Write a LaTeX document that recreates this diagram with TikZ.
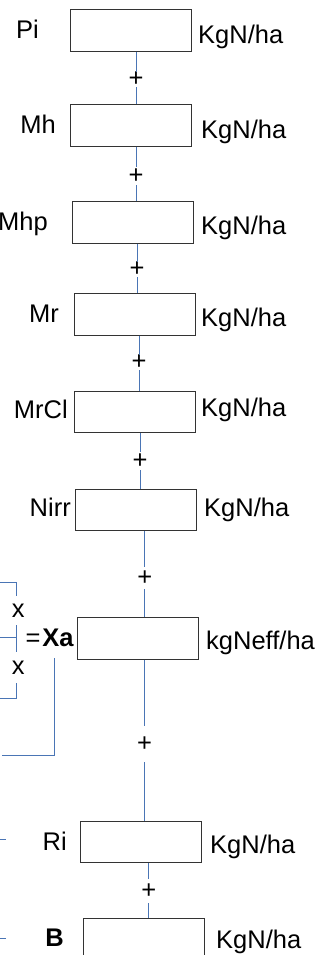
\documentclass[tikz,border=0pt]{standalone}
\usepackage{fontspec}
\setmainfont{Liberation Sans}
\definecolor{connc}{HTML}{4A75B5}
\definecolor{boxc}{HTML}{333333}
\begin{document}
\begin{tikzpicture}[x=1pt,y=-1pt,
  font=\fontsize{25.5}{30}\selectfont,
  box/.style={draw=boxc, line width=0.9pt, minimum width=121.5pt, minimum height=41.5pt, inner sep=0},
  conn/.style={draw=connc, line width=0.9pt},
  plus/.style={inner sep=0, minimum width=12pt},
  lab/.style={inner sep=0, anchor=base east},
  unit/.style={inner sep=0, anchor=base west}]
\useasboundingbox (0,0) rectangle (325,955);
% boxes
\node[box] (Pi)   at (131,30.7)  {};
\node[box] (Mh)   at (131,125.5) {};
\node[box] (Mhp)  at (133,222.5) {};
\node[box] (Mr)   at (135,314.5) {};
\node[box] (MrCl) at (135,411.7) {};
\node[box] (Nirr) at (135.7,509.7) {};
\node[box] (Xa)   at (138,638.3) {};
\node[box] (Ri)   at (141,842)   {};
\node[box] (B)    at (144,939.3) {};
% left labels
\node[lab] (lPi)   at (39,38.3)  {Pi};
\node[lab] (lMh)   at (56,133.3) {Mh};
\node[lab] (lMhp)  at (48,230.7) {Mhp};
\node[lab] (lMr)   at (59,322.7) {Mr};
\node[lab] (lMrCl) at (68,418.3) {MrCl};
\node[lab] (lNirr) at (71,516.7) {Nirr};
\node[lab] (lXa)   at (74,646)   {=\kern2pt\textbf{Xa}};
\node[lab] (lRi)   at (67,850)   {Ri};
\node[lab] (lB)    at (64,946)   {\textbf{B}};
% units
\node[unit] (uPi)   at (198,44)    {KgN/ha};
\node[unit] (uMh)   at (201,138.3) {KgN/ha};
\node[unit] (uMhp)  at (201,234)   {KgN/ha};
\node[unit] (uMr)   at (201,326)   {KgN/ha};
\node[unit] (uMrCl) at (201,416.7) {KgN/ha};
\node[unit] (uNirr) at (204,516.7) {KgN/ha};
\node[unit] (uXa)   at (206,649.3) {kgNeff/ha};
\node[unit] (uRi)   at (210,853.3) {KgN/ha};
\node[unit] (uB)    at (216,948.3) {KgN/ha};
% plus signs (node height = gap in the connector)
\node[plus, minimum height=15pt] (p1) at (136,79.5)  {+};
\node[plus, minimum height=18pt] (p2) at (136,176)   {+};
\node[plus, minimum height=13pt] (p3) at (137,269.5) {+};
\node[plus, minimum height=15pt] (p4) at (139,362.5) {+};
\node[plus, minimum height=18pt] (p5) at (140,461)   {+};
\node[plus, minimum height=22pt] (p6) at (144.7,578) {+};
\node[plus, minimum height=36pt] (p7) at (144.5,744) {+};
\node[plus, minimum height=24pt] (p8) at (148.7,891) {+};
% connectors
\draw[conn] (p1 |- Pi.south) -- (p1.north);   \draw[conn] (p1.south) -- (p1 |- Mh.north);
\draw[conn] (p2 |- Mh.south) -- (p2.north);   \draw[conn] (p2.south) -- (p2 |- Mhp.north);
\draw[conn] (p3 |- Mhp.south) -- (p3.north);  \draw[conn] (p3.south) -- (p3 |- Mr.north);
\draw[conn] (p4 |- Mr.south) -- (p4.north);   \draw[conn] (p4.south) -- (p4 |- MrCl.north);
\draw[conn] (p5 |- MrCl.south) -- (p5.north); \draw[conn] (p5.south) -- (p5 |- Nirr.north);
\draw[conn] (p6 |- Nirr.south) -- (p6.north); \draw[conn] (p6.south) -- (p6 |- Xa.north);
\draw[conn] (p7 |- Xa.south) -- (p7.north);   \draw[conn] (p7.south) -- (p7 |- Ri.north);
\draw[conn] (p8 |- Ri.south) -- (p8.north);   \draw[conn] (p8.south) -- (p8 |- B.north);
% left bracket
\node[inner sep=0] (x1) at (18.2,611) {x};
\node[inner sep=0] (x2) at (18.2,667.5) {x};
\draw[conn] (0,582.3) -- (16.3,582.3) -- (16.3,596);
\draw[conn] (0,637.7) -- (16.3,637.7);
\draw[conn] (16.3,625) -- (16.3,651.7);
\draw[conn] (16.3,683) -- (16.3,698.3) -- (0,698.3);
\coordinate (xaEnd) at (1.7,755.7);
\draw[conn] (54.3,658) -- (54.3,755.7) -- (xaEnd);
\draw[conn] (0,839.3) -- (5.7,839.3);
\draw[conn] (0,938.3) -- (6,938.3);
\end{tikzpicture}
\end{document}
